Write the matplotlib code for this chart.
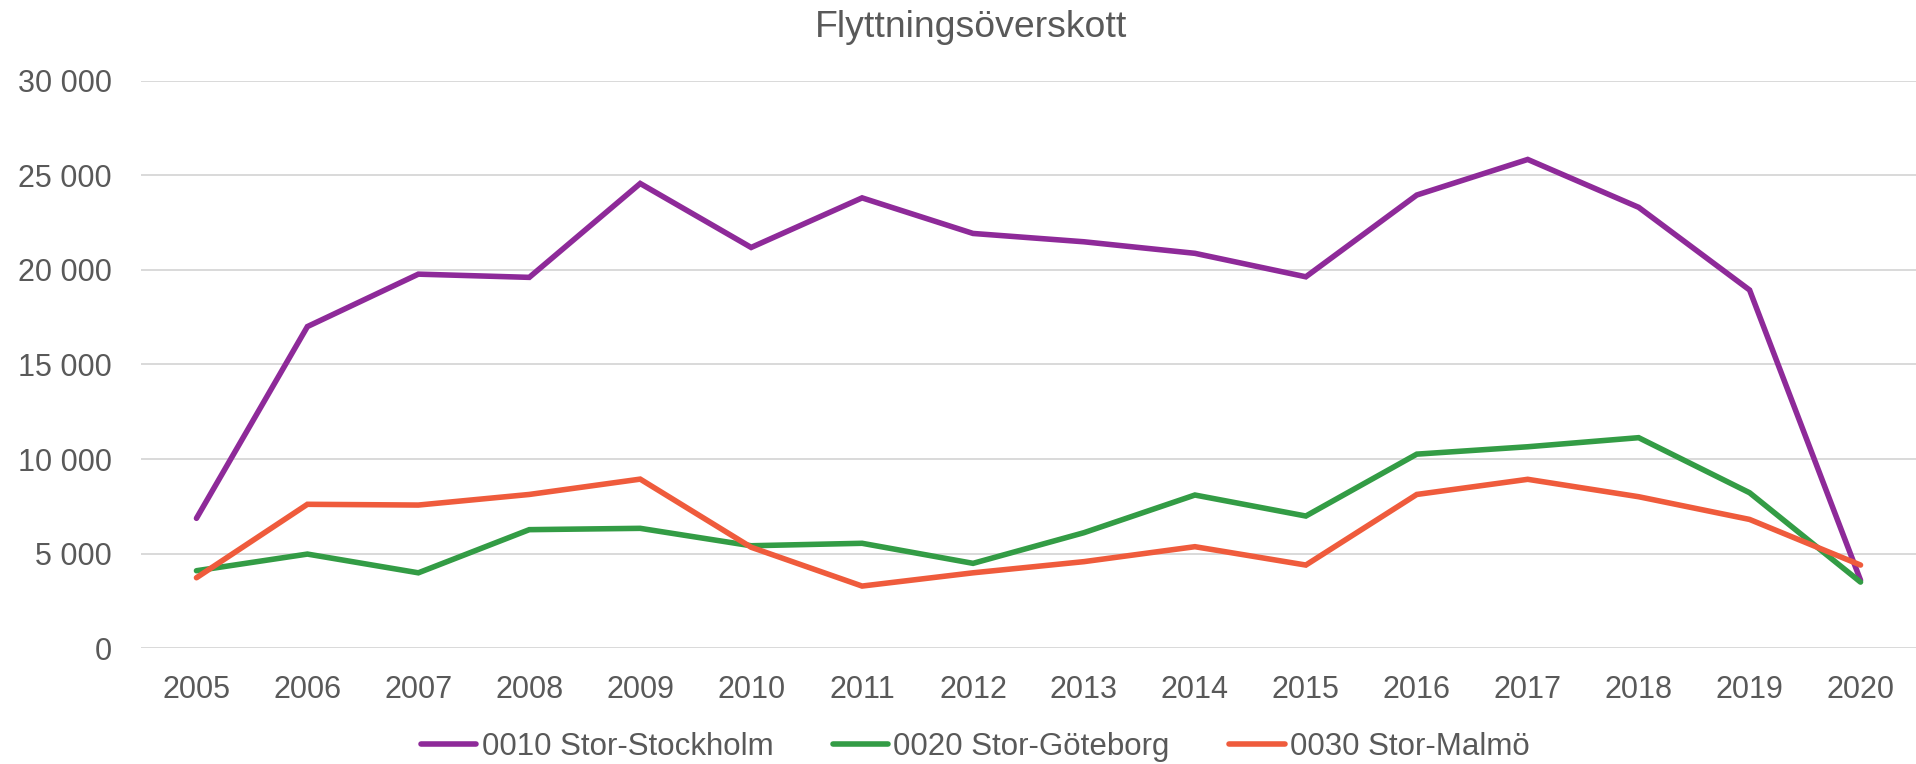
import matplotlib
matplotlib.use("Agg")
import matplotlib.pyplot as plt
from matplotlib.ticker import FuncFormatter, MultipleLocator

plt.rcParams['font.family'] = ['Liberation Sans', 'DejaVu Sans']

years = [str(y) for y in range(2005, 2021)]
stockholm = [6870, 17000, 19770, 19600, 24560, 21180, 23800, 21920,
             21480, 20870, 19630, 23950, 25830, 23300, 18930, 3600]
goteborg = [4100, 4980, 3990, 6270, 6340, 5420, 5550, 4490,
            6110, 8100, 6990, 10260, 10650, 11130, 8220, 3500]
malmo = [3730, 7610, 7570, 8130, 8940, 5340, 3290, 3990,
         4580, 5370, 4400, 8130, 8930, 8010, 6810, 4400]

series_names = ['0010 Stor-Stockholm', '0020 Stor-Göteborg', '0030 Stor-Malmö']
colors = ['#8E2A99', '#339C45', '#EF5B3C']
text_col = '#595959'

fig = plt.figure(figsize=(19.16, 7.64), dpi=100)
ax = fig.add_axes([141 / 1916, 0.1514, 1 - 141 / 1916, 0.8946 - 0.1514])

x = list(range(len(years)))
for vals, name, c in zip([stockholm, goteborg, malmo], series_names, colors):
    ax.plot(x, vals, color=c, linewidth=4.0, label=name,
            solid_joinstyle='miter', solid_capstyle='round')

ax.set_xlim(-0.5, len(years) - 0.5)
ax.set_ylim(0, 30000)
ax.set_xticks(x)
ax.set_xticklabels(years)
ax.yaxis.set_major_locator(MultipleLocator(5000))
ax.yaxis.set_major_formatter(FuncFormatter(lambda v, p: f"{int(v):,}".replace(',', ' ')))

ax.grid(axis='y', color='#D9D9D9', linewidth=1.4)
ax.set_axisbelow(True)
for s in ax.spines.values():
    s.set_visible(False)
ax.tick_params(axis='both', length=0, labelsize=22, colors=text_col)
ax.tick_params(axis='y', pad=21)
ax.tick_params(axis='x', pad=19.5)

fig.text(0.507, 0.952, 'Flyttningsöverskott', ha='center', va='baseline',
         fontsize=26.9, color=text_col)

leg = fig.legend(loc='center', bbox_to_anchor=(0.509, 0.0227), ncol=3,
                 frameon=False, fontsize=22.5, handlelength=1.78,
                 handletextpad=0.17, columnspacing=1.9, borderpad=0)
for t in leg.get_texts():
    t.set_color(text_col)

fig.savefig('out.png', dpi=100)
